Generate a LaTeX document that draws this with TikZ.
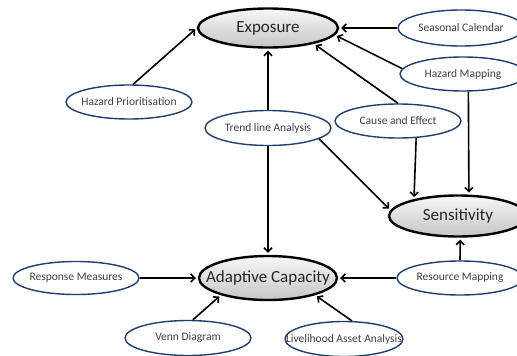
\documentclass[tikz,border=0pt]{standalone}
\usepackage{fontspec}
\setmainfont{Carlito}
\usetikzlibrary{arrows.meta,shapes.geometric}
\definecolor{navy}{RGB}{36,60,110}
\definecolor{smalltxt}{RGB}{64,64,64}
\definecolor{bigtxt}{RGB}{38,38,38}
\newcommand{\zlab}[1]{\makebox[0pt]{#1}}
\begin{document}
\begin{tikzpicture}[x=1pt,y=-1pt,
  small/.style={ellipse, draw=navy, line width=1.4pt, fill=white, inner sep=0pt,
    minimum width=126pt, minimum height=34pt,
    font=\fontsize{11.5}{13}\selectfont, text=smalltxt},
  big/.style={ellipse, draw=black, line width=2.4pt, top color=gray!6, bottom color=gray!45,
    inner sep=0pt, minimum width=140pt, minimum height=39pt,
    font=\fontsize{17}{20}\selectfont, text=bigtxt},
  arr/.style={-{Straight Barb[length=4pt,width=8pt]}, line width=1.6pt, shorten >=2pt}]
\useasboundingbox (0,0) rectangle (517,356);
% main ellipses
\node[big] (exp) at (268,28) {\zlab{Exposure}};
\node[big, minimum width=138pt, minimum height=41pt] (sens) at (458,216) {\zlab{Sensitivity}};
\node[big, minimum width=138pt, minimum height=44pt] (ac) at (268,278) {\zlab{Adaptive Capacity}};
% small ellipses
\node[small, minimum height=36pt] (sc) at (461,28) {\zlab{Seasonal Calendar}};
\node[small] (hm) at (463,74) {\zlab{Hazard Mapping}};
\node[small] (hp) at (129,102) {\zlab{Hazard Prioritisation}};
\node[small, minimum height=35pt] (tla) at (268,128) {\zlab{Trend line Analysis}};
\node[small] (ce) at (398,121) {\zlab{Cause and Effect}};
\node[small] (rm) at (460,278) {\zlab{Resource Mapping}};
\node[small, minimum height=33pt] (rsp) at (76,278) {\zlab{Response Measures}};
\node[small, minimum height=35pt] (venn) at (188,338) {\zlab{Venn Diagram}};
\node[small, minimum width=118pt, minimum height=35pt] (laa) at (344,339) {\zlab{Livelihood Asset Analysis}};
% connectors
\draw[arr] (hp.77) -- (exp.west);
\draw[arr] (sc.west) -- (exp.east);
\draw[arr] (hm.175) -- (exp.-6);
\draw[arr] (ce.north) -- (exp.-19);
\draw[arr] (tla.north) -- (exp.south);
\draw[arr] (tla.south) -- (ac.north);
\draw[arr] (tla.-12) -- (sens.175);
\draw[arr] (ce.-43.9) -- (sens.159.6);
\draw[arr] (hm.-73.6) -- (sens.63.7);
\draw[arr] (rm.north) -- (sens.-84.4);
\draw[arr] (rm.west) -- (ac.east);
\draw[arr] (rsp.east) -- (ac.west);
\draw[arr] (venn.75) -- (ac.200);
\draw[arr] (laa.66) -- (ac.-20);
\end{tikzpicture}
\end{document}
